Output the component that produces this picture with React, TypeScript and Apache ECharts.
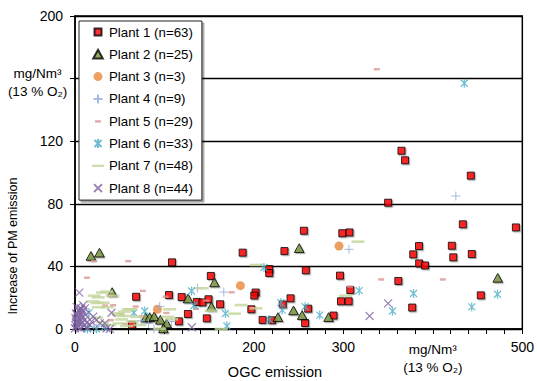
import React, { useEffect, useRef } from 'react';
import * as echarts from 'echarts';

const seriesNames = [
  'Plant 1 (n=63)', 'Plant 2 (n=25)', 'Plant 3 (n=3)', 'Plant 4 (n=9)',
  'Plant 5 (n=29)', 'Plant 6 (n=33)', 'Plant 7 (n=48)', 'Plant 8 (n=44)',
];
const xTickLabels = ['0', '100', '200', '300', 'mg/Nm³\n(13 % O₂)', '500'];
const yTickLabels = ['0', '40', '80', '120', '', '200'];
const yUnit = 'mg/Nm³\n(13 % O₂)';
const xTitle = 'OGC emission';
const yTitle = 'Increase of PM emission';

const plant1: number[][] = [
  [492.8, 64.9], [442.4, 98.0], [364.9, 113.9], [368.9, 107.8], [350, 80.7], [255.8, 62.8],
  [298.8, 61.2], [306.8, 61.7], [433.5, 66.9], [421.2, 53.2], [422.8, 45.8], [443.5, 47.9],
  [453.6, 21.5], [296.2, 34.1], [384.5, 53.0], [378.1, 47.7], [384.7, 41.9], [391.2, 40.6],
  [361.4, 30.7], [307.7, 24.9], [297.3, 17.7], [305.9, 17.7], [376.9, 13.7], [234.1, 49.8],
  [217.1, 38.3], [217.1, 35.8], [258.0, 37.5], [201.9, 23.3], [200.4, 21.4], [240.9, 19.6],
  [197.1, 12.6], [232.2, 15.7], [260.6, 13.0], [209.7, 5.8], [289.0, 8.6], [257.2, 3.8],
  [108.4, 42.6], [187.4, 48.8], [151.8, 33.9], [105.0, 21.7], [119.2, 20.4], [136.2, 17.3],
  [142.5, 17.0], [149.2, 19.0], [162.2, 15.8], [126.2, 9.6], [116.1, 4.9], [147.3, 6.8],
  [68.3, 20.6], [63.7, 2.7], [220.2, 5.6],
];
const plant2: number[][] = [
  [17.8, 46.6], [27.3, 48.7], [41.5, 23.5], [155.9, 29.7], [152.5, 14.2], [126.4, 19.4],
  [79, 7.2], [83.5, 7.5], [88.5, 8.0], [95.4, 5.8], [102.4, 3.5], [98.8, 0.3],
  [226.8, 7.5], [250.6, 51.6], [244.2, 11.8], [253.9, 8.8], [283.4, 7.5], [472.5, 32.6],
];
const plant3: number[][] = [[92.1, 12.6], [184.9, 27.7], [295.1, 53.0]];
const plant4: number[][] = [
  [425.7, 85], [306.2, 50.9], [94.7, 14.4], [166.3, 23.6], [137, 26.2], [108, 4.8],
  [88.3, 0], [82.1, 3.6], [73.8, 5.3],
];
const plant5: number[][] = [
  [337.4, 166.1], [342.2, 31.8], [411.2, 31.8], [307.3, 27.3], [21.2, 43.5], [59.4, 43.5],
  [13.4, 32.9], [75.9, 24.5], [33.7, 15.1], [42.6, 15.3], [50.1, 9.6], [40.1, 5.8],
  [102.1, 10.4], [38.6, 21.5], [67.9, 14.5], [74.6, 8.3], [175.2, 23.6], [135.3, 13],
  [101.3, 20.8], [55.7, 3.2], [146.7, 18.3],
];
const plant6: number[][] = [
  [435.1, 157.0], [472.2, 22.2], [443.5, 14.1], [317.7, 24.5], [378.4, 22.7], [354.9, 11.5],
  [230, 16.9], [231.6, 12.1], [257.2, 14.2], [273.6, 8.9], [211.2, 39.3], [217.1, 6.1],
  [130.3, 24.3], [133.1, 15.0], [168.2, 9.9], [169.8, 1.9], [15.6, 10.5], [32.9, 1.3],
  [23.9, 0], [77.9, 11.5], [65.7, 10.4], [13.9, 0],
];
const plant7: number[][] = [
  [316.3, 55.8], [302.5, 21.3], [202.3, 13.2], [202.7, 40.9], [142.2, 26.0], [185.6, 15.3],
  [178.2, 9.8], [152.2, 11.7], [163.4, 0], [105.8, 12.6], [108, 6.2], [21.5, 21.3],
  [30.8, 23.3], [20.4, 17.6], [24.5, 16.6], [36, 13.9], [55.3, 11.1], [62, 12.6],
  [48.7, 8.9], [52, 6.1], [64.3, 4.7], [57.6, 1.9], [24.2, 7.2], [30.8, 4.3],
  [35.3, 23.9], [53.8, 8.3], [49.3, 3.6], [26, 20.2], [31.5, 16.8], [26, 13.9],
  [59.4, 12.6], [48.2, 10], [68.7, 7.8], [94.7, 0.2], [103.9, 7.8], [42.3, 21.1],
  [39, 2.6], [72.4, 2.6],
];
const plant8: number[][] = [
  [329.3, 8.3], [350, 16.4], [130.6, 1.1], [4.8, 23.2], [9.2, 15.3], [40.8, 10.4],
  [39, 0], [18.5, 4.7], [24.1, 5.8], [11, 13.2], [20.4, 7.9], [33.4, 3.6],
  [16.7, 2.6], [35.3, 0.4], [27.8, 3.6], [1, 2], [2, 5], [3, 8], [1, 10], [4, 12],
  [2, 14], [5, 3], [6, 6], [7, 9], [3, 1], [8, 4], [0.5, 7], [9, 11], [6, 0.5],
  [10, 2], [4, 4], [2, 9], [5, 11], [7, 13], [11, 6], [12, 9], [1, 4], [3, 6],
  [8, 8], [13, 4], [0, 0.5], [14, 1], [6, 13],
];

const FONT = 'Arial, "Liberation Sans", sans-serif';

const ICONS = {
  square: 'path://M0,0M12,12M2.5,2.5H9.5V9.5H2.5Z',
  triangle: 'path://M0,0M12,12M6,1.5L10.8,10.2H1.2Z',
  circle: 'path://M0,0M12,12M1.5,6A4.5,4.5,0,1,1,10.5,6A4.5,4.5,0,1,1,1.5,6Z',
  plus: 'path://M0,0M12,12M1.5,6H10.5M6,1.5V10.5',
  dash5: 'path://M0,0M12,12M3,5H9V7.4H3Z',
  star: 'path://M0,0M12,12M2.5,2.5L9.5,9.5M9.5,2.5L2.5,9.5M6,1.5V10.5',
  dash7: 'path://M0,0M12,12M0,4.8H12V7.2H0Z',
  cross: 'path://M0,0M12,12M2,2L10,10M10,2L2,10',
};

const shadow = { shadowColor: 'rgba(0,0,0,0.35)', shadowOffsetX: 1.2, shadowOffsetY: 1.2, shadowBlur: 0 };

export default function App() {
  const ref = useRef<HTMLDivElement>(null);
  useEffect(() => {
    if (!ref.current) return;
    const chart = echarts.init(ref.current, undefined, { renderer: 'svg' });

    const specs = [
      { data: plant1, icon: ICONS.square, size: 12, style: { color: '#ff0000', borderColor: '#000', borderWidth: 1, ...shadow } },
      { data: plant2, icon: ICONS.triangle, size: 12, style: { color: '#77933c', borderColor: '#000', borderWidth: 1, ...shadow } },
      { data: plant3, icon: ICONS.circle, size: 12, style: { color: '#e8873a', borderWidth: 0 } },
      { data: plant4, icon: ICONS.plus, size: 12, style: { color: '#8eaadb', borderColor: '#8eaadb', borderWidth: 1 } },
      { data: plant5, icon: ICONS.dash5, size: 12, style: { color: '#d99694', borderWidth: 0 } },
      { data: plant6, icon: ICONS.star, size: 12, style: { color: '#4bacc6', borderColor: '#4bacc6', borderWidth: 1.2 } },
      { data: plant7, icon: ICONS.dash7, size: 13, style: { color: '#c3d69b', borderWidth: 0 } },
      { data: plant8, icon: ICONS.cross, size: 12, style: { color: '#8064a2', borderColor: '#8064a2', borderWidth: 1.2 } },
    ];

    const unitRich = { u: { fontSize: 13.5, lineHeight: 18, fontFamily: FONT, color: '#000' } };

    chart.setOption({
      animation: false,
      backgroundColor: '#fff',
      textStyle: { fontFamily: FONT },
      grid: { left: 75, right: 13, top: 16, bottom: 52, show: true, borderColor: '#000', borderWidth: 1.5, backgroundColor: 'transparent' },
      legend: {
        orient: 'vertical',
        left: 79,
        top: 21,
        padding: [4, 9, 5, 12],
        itemWidth: 12,
        itemHeight: 12,
        itemGap: 8.3,
        itemTextGap: 3,
        backgroundColor: '#fff',
        borderColor: '#222',
        borderWidth: 1,
        borderRadius: 0,
        shadowColor: 'rgba(0,0,0,0.35)',
        shadowOffsetX: 2,
        shadowOffsetY: 2,
        shadowBlur: 0,
        textStyle: { fontSize: 13.3, lineHeight: 14, color: '#000', fontFamily: FONT },
        data: seriesNames.map((n, i) => ({ name: n, icon: specs[i].icon })),
      },
      xAxis: {
        type: 'value',
        min: 0,
        max: 500,
        interval: 20,
        axisLine: { show: true, lineStyle: { color: '#000', width: 1.5 } },
        axisTick: { show: true, inside: false, length: 5, lineStyle: { color: '#000', width: 1 } },
        splitLine: { show: false },
        axisLabel: {
          interval: 0,
          margin: 11,
          fontSize: 14,
          color: '#000',
          fontFamily: FONT,
          rich: unitRich,
          formatter: (v: number) => {
            if (v % 100 !== 0) return '';
            const lbl = xTickLabels[v / 100];
            if (lbl.indexOf('\n') >= 0) return lbl.split('\n').map((s) => `{u|${s}}`).join('\n');
            return lbl;
          },
        },
      },
      yAxis: {
        type: 'value',
        min: 0,
        max: 200,
        interval: 40,
        axisLine: { show: true, lineStyle: { color: '#000', width: 1.5 } },
        axisTick: { show: true, inside: false, length: 5, lineStyle: { color: '#000', width: 1 } },
        splitLine: { show: true, lineStyle: { color: '#000', width: 1.4 } },
        axisLabel: {
          margin: 12,
          fontSize: 14,
          color: '#000',
          fontFamily: FONT,
          formatter: (v: number) => yTickLabels[v / 40],
        },
      },
      graphic: [
        {
          type: 'text',
          x: 275,
          y: 372,
          style: { text: xTitle, fontSize: 14.5, fontFamily: FONT, fill: '#000', textAlign: 'center', textVerticalAlign: 'middle' },
        },
        {
          type: 'text',
          x: 13,
          y: 246,
          rotation: Math.PI / 2,
          style: { text: yTitle, fontSize: 12.5, fontFamily: FONT, fill: '#000', textAlign: 'center', textVerticalAlign: 'middle' },
        },
        {
          type: 'text',
          x: 37.5,
          y: 82,
          style: { text: yUnit, fontSize: 13.5, lineHeight: 18, fontFamily: FONT, fill: '#000', textAlign: 'center', textVerticalAlign: 'middle' },
        },
      ],
      series: specs.map((s, i) => ({
        name: seriesNames[i],
        type: 'scatter',
        symbol: s.icon,
        symbolSize: s.size,
        data: s.data,
        itemStyle: s.style,
        emphasis: { disabled: true },
        z: 2 + i,
      })),
    });
    return () => chart.dispose();
  }, []);
  return <div ref={ref} style={{ position: 'fixed', left: 0, top: 0, width: 537, height: 381 }} />;
}
